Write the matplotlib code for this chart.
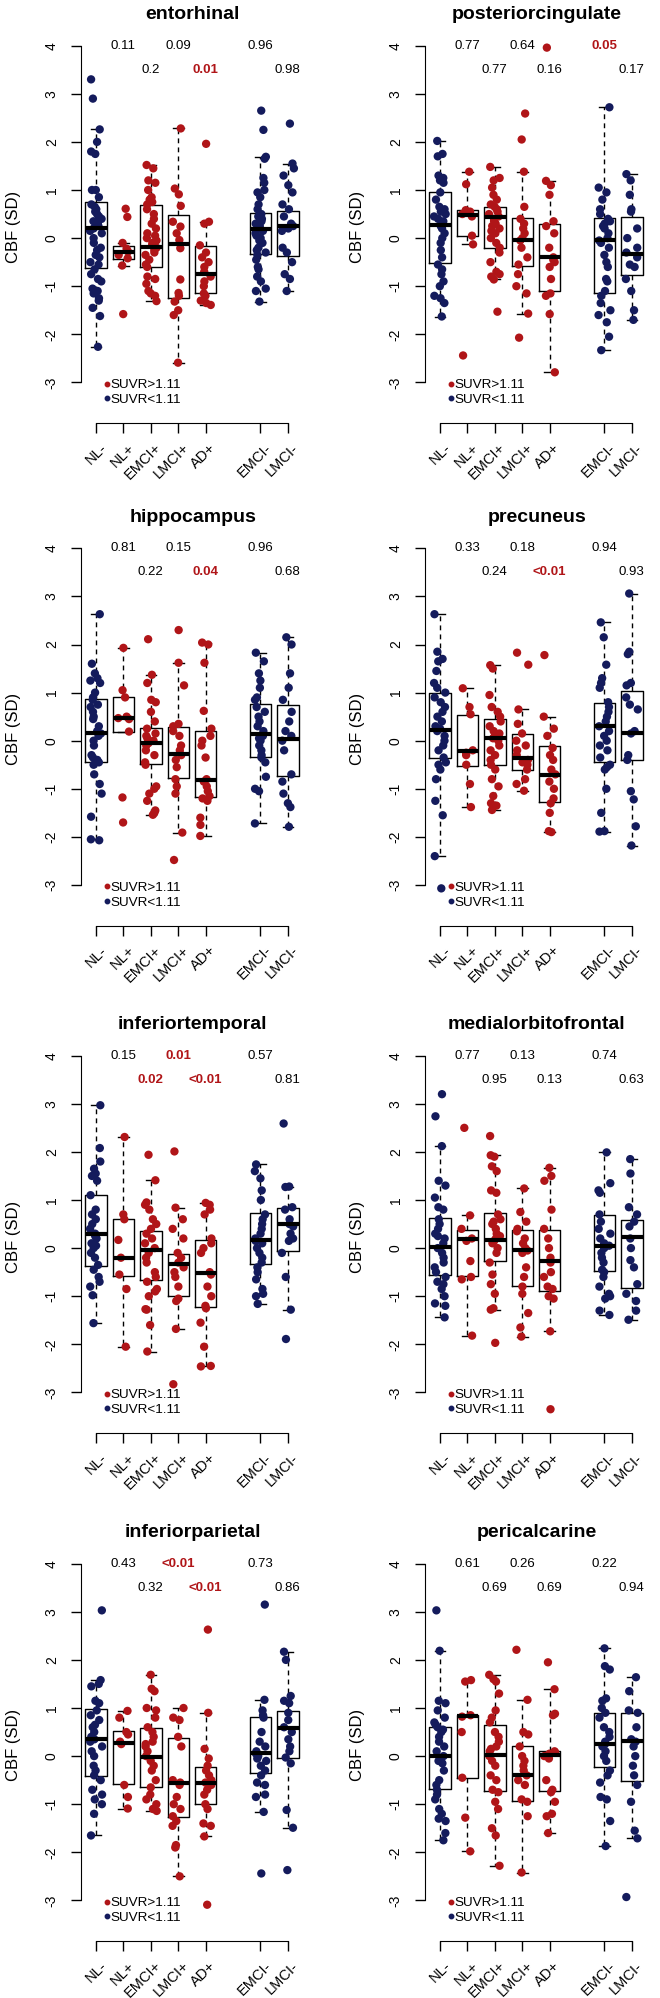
import numpy as np
import matplotlib
matplotlib.use("Agg")
import matplotlib.pyplot as plt
import matplotlib.transforms as mtransforms
from matplotlib.lines import Line2D

plt.rcParams['font.family'] = ['Liberation Sans', 'DejaVu Sans']

groups = ["NL-", "NL+", "EMCI+", "LMCI+", "AD+", "EMCI-", "LMCI-"]
positions = [1, 2, 3, 4, 5, 7, 8]
amyloid_pos = [False, True, True, True, True, False, False]
regions = ["entorhinal", "posteriorcingulate", "hippocampus", "precuneus",
           "inferiortemporal", "medialorbitofrontal", "inferiorparietal", "pericalcarine"]

# box stats per group: (whislo, q1, med, q3, whishi)
# p-values in order NL+, EMCI+, LMCI+, AD+, EMCI-, LMCI-

entorhinal_box = [(-2.26, -0.62, 0.22, 0.76, 2.26), (-0.57, -0.44, -0.28, -0.16, -0.1),
                  (-1.31, -0.6, -0.19, 0.69, 1.52), (-2.59, -1.24, -0.13, 0.48, 2.28),
                  (-1.39, -1.15, -0.75, -0.16, 0.34), (-1.32, -0.33, 0.19, 0.53, 1.69),
                  (-1.1, -0.37, 0.25, 0.57, 1.55)]
entorhinal_pts = [
    [3.3, 2.9, 2.26, 2.0, 1.8, 1.75, 1.0, 1.0, 0.85, 0.7, 0.65, 0.6, 0.55, 0.5, 0.45, 0.4, 0.35, 0.3,
     0.25, 0.2, 0.15, 0.1, 0.0, -0.1, -0.2, -0.25, -0.35, -0.4, -0.5, -0.55, -0.65, -0.75, -0.85,
     -0.9, -1.05, -1.1, -1.15, -1.25, -1.3, -1.45, -1.62, -2.26],
    [0.61, 0.44, -0.1, -0.22, -0.28, -0.35, -0.42, -0.57, -1.58],
    [1.52, 1.45, 1.2, 1.15, 1.0, 0.85, 0.8, 0.75, 0.7, 0.6, 0.5, 0.4, 0.3, 0.2, 0.1, 0.05, 0.0, -0.05,
     -0.1, -0.15, -0.2, -0.25, -0.3, -0.35, -0.45, -0.55, -0.6, -0.8, -0.85, -0.95, -1.1, -1.15, -1.2, -1.31],
    [2.28, 1.03, 0.91, 0.67, 0.34, 0.24, 0.1, -0.04, -0.21, -0.86, -1.14, -1.2, -1.32, -1.5, -1.6, -2.59],
    [1.96, 0.34, 0.3, -0.15, -0.3, -0.4, -0.5, -0.6, -0.7, -0.8, -0.9, -1.0, -1.15, -1.2, -1.3, -1.35, -1.39],
    [2.65, 2.25, 1.69, 1.65, 1.25, 1.15, 1.0, 0.95, 0.85, 0.7, 0.6, 0.5, 0.45, 0.4, 0.35, 0.3, 0.25, 0.2,
     0.15, 0.1, 0.05, 0.0, -0.05, -0.1, -0.2, -0.25, -0.3, -0.35, -0.45, -0.6, -0.65, -0.8, -0.9, -1.05,
     -1.1, -1.32],
    [2.38, 1.55, 1.45, 1.3, 1.1, 0.95, 0.7, 0.6, 0.45, 0.3, 0.25, 0.2, 0.15, -0.2, -0.3, -0.5, -0.75, -0.85, -1.1],
]
entorhinal_p = ["0.11", "0.2", "0.09", "0.01", "0.96", "0.98"]

posteriorcingulate_box = [(-1.63, -0.52, 0.27, 0.95, 2.02), (-0.13, 0.05, 0.48, 0.58, 1.38),
                          (-0.86, -0.21, 0.44, 0.65, 1.48), (-1.57, -0.57, -0.03, 0.41, 1.38),
                          (-2.79, -1.1, -0.39, 0.29, 1.19), (-2.33, -1.15, -0.04, 0.41, 2.72),
                          (-1.7, -0.77, -0.33, 0.44, 1.33)]
posteriorcingulate_pts = [
    [2.02, 1.75, 1.7, 1.3, 1.25, 1.2, 1.15, 0.95, 0.8, 0.65, 0.6, 0.55, 0.5, 0.45, 0.4, 0.35, 0.3, 0.25,
     0.2, 0.1, 0.0, -0.1, -0.25, -0.4, -0.55, -0.65, -0.75, -0.9, -1.0, -1.2, -1.25, -1.35, -1.63],
    [1.38, 1.12, 0.58, 0.55, 0.5, 0.45, 0.05, -0.13, -2.44],
    [1.48, 1.25, 1.2, 1.05, 0.9, 0.8, 0.7, 0.65, 0.6, 0.55, 0.5, 0.45, 0.4, 0.35, 0.3, 0.25, 0.2, 0.15,
     0.1, 0.0, -0.1, -0.2, -0.3, -0.5, -0.7, -0.75, -0.8, -0.86, -1.53],
    [2.59, 2.05, 1.38, 0.65, 0.4, 0.3, 0.2, 0.1, 0.0, -0.05, -0.2, -0.4, -0.55, -0.75, -1.0, -1.15, -1.57, -2.07],
    [3.96, 1.19, 1.1, 0.9, 0.35, 0.25, 0.1, -0.2, -0.4, -0.45, -0.5, -0.6, -0.85, -1.15, -1.2, -1.58, -2.79],
    [2.72, 1.05, 0.95, 0.8, 0.6, 0.5, 0.4, 0.35, 0.3, 0.25, 0.2, 0.1, 0.0, -0.05, -0.1, -0.2, -0.35, -0.5,
     -0.6, -0.85, -0.9, -1.1, -1.2, -1.35, -1.5, -1.6, -1.75, -2.05, -2.33],
    [1.33, 1.2, 0.9, 0.6, 0.55, 0.2, 0.0, -0.2, -0.3, -0.4, -0.55, -0.6, -0.85, -1.1, -1.5, -1.7],
]
posteriorcingulate_p = ["0.77", "0.77", "0.64", "0.16", "0.05", "0.17"]

hippocampus_box = [(-2.05, -0.44, 0.17, 0.87, 2.63), (0.19, 0.19, 0.47, 0.9, 1.93),
                   (-1.54, -0.48, -0.05, 0.27, 1.37), (-1.91, -0.78, -0.28, 0.29, 1.62),
                   (-1.98, -1.18, -0.82, 0.21, 2.04), (-1.72, -0.33, 0.13, 0.76, 1.83),
                   (-1.79, -0.73, 0.03, 0.74, 2.15)]
hippocampus_pts = [
    [2.63, 1.6, 1.4, 1.3, 1.25, 1.2, 1.0, 0.9, 0.85, 0.75, 0.7, 0.6, 0.5, 0.45, 0.3, 0.2, 0.15, 0.1, 0.0,
     -0.1, -0.3, -0.35, -0.4, -0.45, -0.5, -0.7, -0.9, -1.1, -1.58, -2.05, -2.07],
    [1.93, 1.05, 0.9, 0.5, 0.47, 0.45, 0.19, -1.18, -1.7],
    [2.11, 1.37, 1.2, 0.85, 0.8, 0.6, 0.4, 0.25, 0.15, 0.1, 0.05, 0.0, -0.05, -0.1, -0.2, -0.3, -0.45,
     -0.5, -0.95, -1.0, -1.1, -1.25, -1.45, -1.5, -1.54],
    [2.3, 1.62, 1.15, 0.35, 0.3, 0.2, 0.1, -0.1, -0.2, -0.3, -0.4, -0.55, -0.8, -0.95, -1.1, -1.91, -2.48],
    [2.04, 2.0, 1.62, 0.62, 0.25, 0.1, 0.0, -0.1, -0.35, -0.8, -0.85, -0.95, -1.05, -1.15, -1.2, -1.25,
     -1.6, -1.75, -1.98],
    [1.83, 1.65, 1.4, 1.25, 1.1, 0.9, 0.85, 0.7, 0.6, 0.5, 0.4, 0.3, 0.2, 0.1, 0.05, 0.0, -0.1, -0.2,
     -0.3, -0.35, -0.45, -0.75, -1.0, -1.05, -1.72],
    [2.15, 2.0, 1.4, 1.1, 0.85, 0.6, 0.4, 0.2, 0.1, 0.0, -0.2, -0.7, -0.85, -1.1, -1.3, -1.38, -1.79],
]
hippocampus_p = ["0.81", "0.22", "0.15", "0.04", "0.96", "0.68"]

precuneus_box = [(-2.4, -0.35, 0.22, 1.0, 2.63), (-1.38, -0.53, -0.21, 0.53, 1.09),
                 (-1.44, -0.5, 0.06, 0.45, 1.57), (-1.04, -0.6, -0.37, 0.13, 0.65),
                 (-1.9, -1.27, -0.72, -0.12, 0.5), (-1.89, -0.44, 0.31, 0.78, 2.46),
                 (-2.18, -0.41, 0.15, 1.04, 3.06)]
precuneus_pts = [
    [2.63, 1.85, 1.7, 1.65, 1.45, 1.2, 1.1, 1.0, 0.9, 0.8, 0.7, 0.6, 0.5, 0.4, 0.3, 0.25, 0.2, 0.1, 0.0,
     -0.1, -0.2, -0.35, -0.45, -0.5, -0.6, -0.8, -1.25, -1.55, -2.4, -3.07],
    [1.09, 0.7, 0.55, -0.2, -0.25, -0.3, -0.5, -0.9, -1.38],
    [1.57, 1.5, 0.95, 0.7, 0.6, 0.5, 0.4, 0.3, 0.2, 0.15, 0.1, 0.05, 0.0, -0.1, -0.2, -0.3, -0.4, -0.5,
     -0.6, -0.8, -0.95, -1.15, -1.3, -1.35, -1.44],
    [1.83, 1.58, 0.65, 0.35, 0.15, 0.0, -0.1, -0.2, -0.3, -0.4, -0.45, -0.5, -0.6, -0.8, -0.9, -1.04],
    [1.78, 0.5, 0.25, 0.1, -0.15, -0.3, -0.4, -0.6, -0.7, -0.85, -1.0, -1.2, -1.3, -1.5, -1.88, -1.9],
    [2.46, 2.15, 1.58, 1.3, 1.2, 1.1, 0.8, 0.7, 0.6, 0.5, 0.4, 0.3, 0.2, 0.1, 0.0, -0.1, -0.2, -0.35,
     -0.5, -0.55, -0.6, -1.0, -1.5, -1.88, -1.89],
    [3.06, 1.85, 1.8, 1.2, 1.15, 0.9, 0.75, 0.65, 0.2, 0.15, -0.3, -0.4, -1.05, -1.22, -1.78, -2.18],
]
precuneus_p = ["0.33", "0.24", "0.18", "<0.01", "0.94", "0.93"]

inferiortemporal_box = [(-1.56, -0.38, 0.3, 1.1, 2.97), (-2.05, -0.57, -0.21, 0.61, 2.31),
                        (-2.15, -0.67, -0.03, 0.35, 1.41), (-1.68, -0.99, -0.34, -0.13, 0.84),
                        (-2.46, -1.23, -0.52, 0.17, 0.94), (-1.16, -0.33, 0.16, 0.73, 1.74),
                        (-1.28, -0.06, 0.51, 0.84, 1.28)]
inferiortemporal_pts = [
    [2.97, 2.08, 1.8, 1.65, 1.55, 1.5, 1.4, 1.1, 0.8, 0.7, 0.6, 0.5, 0.4, 0.3, 0.25, 0.2, 0.1, 0.05, 0.0,
     -0.1, -0.2, -0.35, -0.45, -0.6, -0.7, -0.8, -0.98, -1.56],
    [2.31, 0.7, 0.6, 0.17, -0.2, -0.55, -0.85, -2.05],
    [1.94, 1.41, 0.95, 0.9, 0.8, 0.6, 0.5, 0.4, 0.3, 0.2, 0.1, 0.0, -0.1, -0.2, -0.3, -0.5, -0.6, -0.7,
     -0.85, -0.9, -1.0, -1.27, -1.28, -1.6, -2.15],
    [2.01, 0.84, 0.6, 0.4, 0.2, -0.1, -0.2, -0.3, -0.4, -0.5, -0.6, -0.8, -1.05, -1.1, -1.68, -2.83],
    [0.94, 0.9, 0.8, 0.7, 0.2, 0.1, 0.0, -0.1, -0.5, -0.55, -0.8, -1.0, -1.2, -1.25, -1.55, -2.05, -2.45, -2.46],
    [1.74, 1.6, 1.45, 1.2, 1.0, 0.7, 0.6, 0.5, 0.4, 0.3, 0.2, 0.15, 0.1, 0.0, -0.1, -0.2, -0.3, -0.4,
     -0.5, -0.65, -0.85, -0.95, -1.0, -1.16],
    [2.59, 1.28, 1.27, 0.85, 0.8, 0.6, 0.5, 0.45, 0.3, 0.2, 0.15, -0.1, -0.6, -1.28, -1.89],
]
inferiortemporal_p = ["0.15", "0.02", "0.01", "<0.01", "0.57", "0.81"]

medialorbitofrontal_box = [(-1.44, -0.55, 0.02, 0.63, 2.12), (-1.82, -0.59, 0.19, 0.38, 0.68),
                           (-1.28, -0.27, 0.16, 0.72, 1.93), (-1.84, -0.79, -0.03, 0.37, 1.24),
                           (-1.73, -0.9, -0.26, 0.37, 1.67), (-1.39, -0.47, 0.05, 0.69, 1.99),
                           (-1.49, -0.83, 0.23, 0.59, 1.85)]
medialorbitofrontal_pts = [
    [3.2, 2.74, 2.12, 1.4, 1.3, 1.05, 0.85, 0.8, 0.6, 0.5, 0.4, 0.3, 0.25, 0.2, 0.1, 0.0, -0.1, -0.2,
     -0.3, -0.4, -0.5, -0.6, -0.7, -0.75, -0.85, -1.0, -1.15, -1.2, -1.44],
    [2.5, 0.68, 0.4, 0.2, 0.15, -0.27, -0.6, -0.65, -1.82],
    [2.33, 1.93, 1.9, 1.7, 1.6, 1.2, 1.15, 0.7, 0.6, 0.55, 0.5, 0.4, 0.3, 0.25, 0.2, 0.15, 0.1, 0.0,
     -0.1, -0.3, -0.55, -0.75, -0.95, -1.25, -1.28, -1.97],
    [1.24, 0.75, 0.55, 0.4, 0.35, 0.2, 0.1, 0.0, -0.05, -0.1, -0.4, -0.6, -0.8, -0.95, -1.35, -1.65, -1.84],
    [1.67, 1.5, 1.4, 0.8, 0.4, 0.2, 0.0, -0.2, -0.3, -0.5, -0.6, -0.8, -0.85, -1.0, -1.05, -1.73, -3.35],
    [1.99, 1.35, 1.2, 1.15, 0.7, 0.55, 0.4, 0.3, 0.2, 0.1, 0.05, 0.0, -0.1, -0.2, -0.3, -0.45, -0.5,
     -0.6, -0.8, -0.95, -1.0, -1.05, -1.3, -1.39],
    [1.85, 1.55, 0.85, 0.7, 0.55, 0.45, 0.2, 0.0, -0.25, -0.4, -0.75, -0.95, -1.1, -1.3, -1.49],
]
medialorbitofrontal_p = ["0.77", "0.95", "0.13", "0.13", "0.74", "0.63"]

inferiorparietal_box = [(-1.65, -0.42, 0.35, 0.97, 1.58), (-1.09, -0.59, 0.28, 0.52, 0.94),
                        (-1.14, -0.65, -0.02, 0.59, 1.69), (-2.5, -1.26, -0.55, 0.38, 1.0),
                        (-1.67, -1.0, -0.55, -0.22, 0.9), (-1.16, -0.36, 0.06, 0.82, 1.17),
                        (-1.49, -0.03, 0.59, 0.94, 2.17)]
inferiorparietal_pts = [
    [3.03, 1.58, 1.5, 1.45, 1.15, 1.1, 0.95, 0.85, 0.75, 0.65, 0.6, 0.5, 0.4, 0.35, 0.3, 0.2, 0.1, 0.0,
     -0.2, -0.3, -0.4, -0.5, -0.7, -0.8, -0.9, -1.0, -1.2, -1.65],
    [0.94, 0.8, 0.5, 0.45, 0.3, 0.25, -0.6, -0.85, -1.09],
    [1.69, 1.4, 1.35, 1.0, 0.95, 0.8, 0.6, 0.5, 0.4, 0.3, 0.25, 0.2, 0.1, 0.0, -0.1, -0.2, -0.3, -0.5,
     -0.65, -0.8, -0.9, -1.0, -1.1, -1.14],
    [1.0, 0.8, 0.75, 0.4, 0.2, -0.5, -0.55, -0.6, -0.85, -1.0, -1.1, -1.25, -1.35, -1.45, -1.85, -1.9, -2.5],
    [2.63, 0.9, 0.15, -0.05, -0.2, -0.3, -0.4, -0.5, -0.55, -0.6, -0.7, -0.8, -1.0, -1.1, -1.4, -1.45,
     -1.67, -3.09],
    [3.15, 1.17, 0.95, 0.85, 0.8, 0.5, 0.3, 0.2, 0.1, 0.05, 0.0, -0.05, -0.1, -0.2, -0.3, -0.4, -0.55,
     -0.6, -0.8, -0.85, -1.16, -2.44],
    [2.17, 2.0, 1.25, 1.15, 1.1, 0.9, 0.75, 0.6, 0.5, 0.35, 0.2, 0.1, -0.03, -0.15, -1.12, -1.49, -2.37],
]
inferiorparietal_p = ["0.43", "0.32", "<0.01", "<0.01", "0.73", "0.86"]

pericalcarine_box = [(-1.75, -0.69, 0.01, 0.6, 2.19), (-1.98, -0.45, 0.83, 0.85, 1.58),
                     (-2.28, -0.72, 0.03, 0.65, 1.69), (-2.42, -0.94, -0.4, 0.21, 1.17),
                     (-1.6, -0.72, 0.02, 0.11, 1.39), (-1.87, -0.22, 0.26, 0.9, 2.24),
                     (-1.71, -0.51, 0.32, 0.89, 1.64)]
pericalcarine_pts = [
    [3.03, 2.19, 1.15, 1.1, 0.95, 0.8, 0.7, 0.65, 0.6, 0.55, 0.5, 0.4, 0.3, 0.2, 0.1, 0.0, -0.1, -0.15,
     -0.3, -0.5, -0.6, -0.7, -0.8, -0.9, -1.1, -1.2, -1.3, -1.35, -1.6, -1.75],
    [1.58, 1.55, 0.85, 0.82, 0.5, -0.45, -1.28, -1.98],
    [1.69, 1.6, 1.55, 1.3, 0.95, 0.8, 0.7, 0.5, 0.4, 0.3, 0.2, 0.15, 0.1, 0.0, -0.1, -0.2, -0.4, -0.5,
     -0.7, -0.75, -0.95, -1.1, -1.5, -1.65, -2.28],
    [2.21, 1.17, 0.5, 0.45, 0.2, 0.0, -0.1, -0.2, -0.3, -0.4, -0.5, -0.6, -0.9, -0.95, -1.25, -2.42],
    [1.95, 1.39, 0.88, 0.85, 0.1, 0.08, 0.05, 0.02, 0.0, -0.05, -0.5, -0.7, -0.75, -0.95, -1.2, -1.25, -1.6],
    [2.24, 1.87, 1.8, 1.2, 1.15, 1.0, 0.9, 0.8, 0.6, 0.5, 0.4, 0.3, 0.25, 0.2, 0.1, 0.0, -0.1, -0.3,
     -0.4, -0.55, -0.85, -0.9, -1.35, -1.87],
    [1.64, 1.35, 0.95, 0.9, 0.6, 0.35, 0.3, 0.2, 0.0, -0.2, -0.4, -0.6, -0.95, -1.55, -1.71, -2.93],
]
pericalcarine_p = ["0.61", "0.69", "0.26", "0.69", "0.22", "0.94"]

all_box = [entorhinal_box, posteriorcingulate_box, hippocampus_box, precuneus_box,
           inferiortemporal_box, medialorbitofrontal_box, inferiorparietal_box, pericalcarine_box]
all_pts = [entorhinal_pts, posteriorcingulate_pts, hippocampus_pts, precuneus_pts,
           inferiortemporal_pts, medialorbitofrontal_pts, inferiorparietal_pts, pericalcarine_pts]
all_p = [entorhinal_p, posteriorcingulate_p, hippocampus_p, precuneus_p,
         inferiortemporal_p, medialorbitofrontal_p, inferiorparietal_p, pericalcarine_p]

navy = "#141b5c"
red = "#b01518"

fig = plt.figure(figsize=(6.6, 19.98), dpi=100)
rng = np.random.default_rng(3)

# layout in pixels
col_left = [81, 425]
y4_px = [45.7, 548.3, 1055.7, 1563.7]
unit_y = 48.1
xlim = (0.45, 8.6)
ylim = (-3.95, 4.3)
W = 27.4 * (xlim[1] - xlim[0])
H = unit_y * (ylim[1] - ylim[0])

for k, name in enumerate(regions):
    r, c = divmod(k, 2)
    top = y4_px[r] - unit_y * (ylim[1] - 4)
    ax = fig.add_axes([col_left[c] / 660, 1 - (top + H) / 1998, W / 660, H / 1998])
    ax.set_xlim(*xlim)
    ax.set_ylim(*ylim)

    stats = [dict(whislo=b[0], q1=b[1], med=b[2], q3=b[3], whishi=b[4]) for b in all_box[k]]
    ax.bxp(stats, positions=positions, widths=0.78, capwidths=0.39, showfliers=False,
           manage_ticks=False,
           boxprops=dict(color="black", lw=1.0),
           whiskerprops=dict(color="black", lw=1.0, linestyle=(0, (3.5, 3))),
           capprops=dict(color="black", lw=1.0),
           medianprops=dict(color="black", lw=3.0, solid_capstyle="butt", zorder=4))

    for i, vals in enumerate(all_pts[k]):
        xs = positions[i] + rng.uniform(-0.22, 0.22, len(vals))
        ax.scatter(xs, vals, s=36, color=red if amyloid_pos[i] else navy,
                   edgecolors="none", zorder=3, clip_on=False)

    for i, p in enumerate(all_p[k]):
        sig = p.startswith("<") or float(p) <= 0.05
        ax.text(positions[i + 1], 4.0 if i % 2 == 0 else 3.5, p, ha="center", va="center",
                fontsize=9.5, color=red if sig else "black",
                fontweight="bold" if sig else "normal")

    ax.set_title(name, fontsize=14, fontweight="bold", pad=8.5)

    ax.spines["top"].set_visible(False)
    ax.spines["right"].set_visible(False)
    ax.spines["left"].set_bounds(-3, 4)
    ax.spines["bottom"].set_position(("data", -3.85))
    ax.spines["bottom"].set_bounds(positions[0], positions[-1])

    ax.set_yticks(range(-3, 5))
    ax.set_yticklabels([str(v) for v in range(-3, 5)], rotation=90, va="center")
    ax.tick_params(axis="y", length=7, width=1, labelsize=10, pad=9)
    ax.set_xticks(positions, groups)
    ax.tick_params(axis="x", length=7, width=1, labelsize=10.5, pad=9)
    offset = mtransforms.ScaledTranslation(6 / 72, 0, fig.dpi_scale_trans)
    for lab in ax.get_xticklabels():
        lab.set_rotation(45)
        lab.set_ha("right")
        lab.set_va("center")
        lab.set_rotation_mode("anchor")
        lab.set_transform(lab.get_transform() + offset)

    ax.set_ylabel("CBF (SD)", fontsize=12)
    ax.yaxis.set_label_coords(-0.27, 0.508)

    handles = [Line2D([], [], marker="o", ls="", color=red, markersize=3.2),
               Line2D([], [], marker="o", ls="", color=navy, markersize=3.2)]
    ax.legend(handles, ["SUVR>1.11", "SUVR<1.11"], loc="upper left",
              bbox_to_anchor=(1.3, -2.93), bbox_transform=ax.transData,
              frameon=False, fontsize=9.7, handlelength=0.4, handletextpad=0.05,
              borderpad=0, borderaxespad=0, labelspacing=0.15)

fig.savefig("out.png", dpi=100)
